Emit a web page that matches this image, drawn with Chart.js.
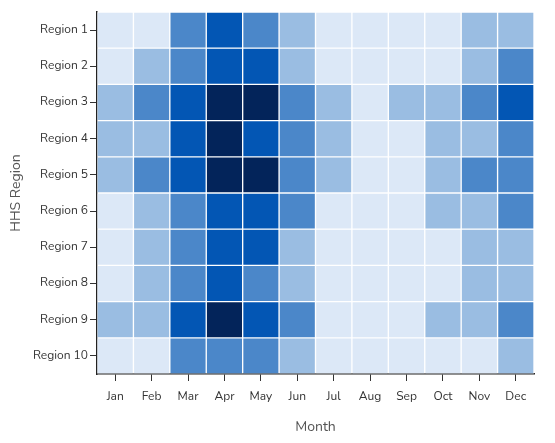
<!DOCTYPE html>
<html>
<head>
<meta charset="utf-8">
<script src="https://cdn.jsdelivr.net/npm/chart.js@4.4.0/dist/chart.umd.min.js"></script>
<style>
html,body{margin:0;padding:0;background:#fff;}
#wrap{width:555px;height:443px;}
</style>
</head>
<body>
<div id="wrap"><canvas id="c" width="555" height="443"></canvas></div>
<script>
const months = ['Jan','Feb','Mar','Apr','May','Jun','Jul','Aug','Sep','Oct','Nov','Dec'];
const regions = ['Region 1','Region 2','Region 3','Region 4','Region 5','Region 6','Region 7','Region 8','Region 9','Region 10'];
// intensity level (0 = lowest .. 4 = highest) per region, Jan..Dec
const region1  = [0,0,2,3,2,1,0,0,0,0,1,1];
const region2  = [0,1,2,3,3,1,0,0,0,0,1,2];
const region3  = [1,2,3,4,4,2,1,0,1,1,2,3];
const region4  = [1,1,3,4,3,2,1,0,0,1,1,2];
const region5  = [1,2,3,4,4,2,1,0,0,1,2,2];
const region6  = [0,1,2,3,3,2,0,0,0,1,1,2];
const region7  = [0,1,2,3,3,1,0,0,0,0,1,1];
const region8  = [0,1,2,3,2,1,0,0,0,0,1,1];
const region9  = [1,1,3,4,3,2,0,0,0,1,1,2];
const region10 = [0,0,2,2,2,1,0,0,0,0,0,1];
const levels = [region1,region2,region3,region4,region5,region6,region7,region8,region9,region10];
const palette = ['#dce8f7','#9abde2','#4b87c9','#0356b4','#03245a'];

const FONT = "'Nunito', 'Lato', sans-serif";

const datasets = regions.map((name, r) => ({
  label: name,
  data: months.map(() => [r + 0.5, r + 1.5]),
  backgroundColor: levels[r].map(v => palette[v]),
  borderColor: 'rgba(255,255,255,0.35)',
  borderWidth: 1,
  borderSkipped: false,
  barPercentage: 1,
  categoryPercentage: 1,
  grouped: false
}));

new Chart(document.getElementById('c'), {
  type: 'bar',
  data: { labels: months, datasets },
  options: {
    responsive: false,
    animation: false,
    devicePixelRatio: 1,
    layout: { padding: { top: 12, right: 21, left: 0, bottom: 0 } },
    plugins: { legend: { display: false }, tooltip: { enabled: false } },
    scales: {
      x: {
        type: 'category',
        offset: true,
        grid: { display: true, drawOnChartArea: false, offset: false, tickLength: 7, color: '#333', lineWidth: 1 },
        border: { display: true, color: '#222', width: 1.5 },
        ticks: { color: '#333', font: { family: FONT, size: 12 }, padding: 9, maxRotation: 0 },
        title: { display: true, text: 'Month', color: '#555', font: { family: FONT, size: 14 }, padding: { top: 0, bottom: 7 } },
        afterFit: s => { s.height = 69; }
      },
      y: {
        type: 'linear',
        reverse: true,
        min: 0.5,
        max: 10.5,
        afterBuildTicks: s => { s.ticks = regions.map((_, i) => ({ value: i + 1 })); },
        grid: { display: true, drawOnChartArea: false, tickLength: 7, color: '#333', lineWidth: 1 },
        border: { display: true, color: '#222', width: 1.5 },
        ticks: { color: '#333', font: { family: FONT, size: 12 }, padding: 2, callback: (v) => regions[Math.round(v) - 1] },
        title: { display: true, text: 'HHS Region', color: '#555', font: { family: FONT, size: 14 }, padding: { top: 8, bottom: 0 } },
        afterFit: s => { s.width = 97; }
      }
    }
  }
});
</script>
</body>
</html>
